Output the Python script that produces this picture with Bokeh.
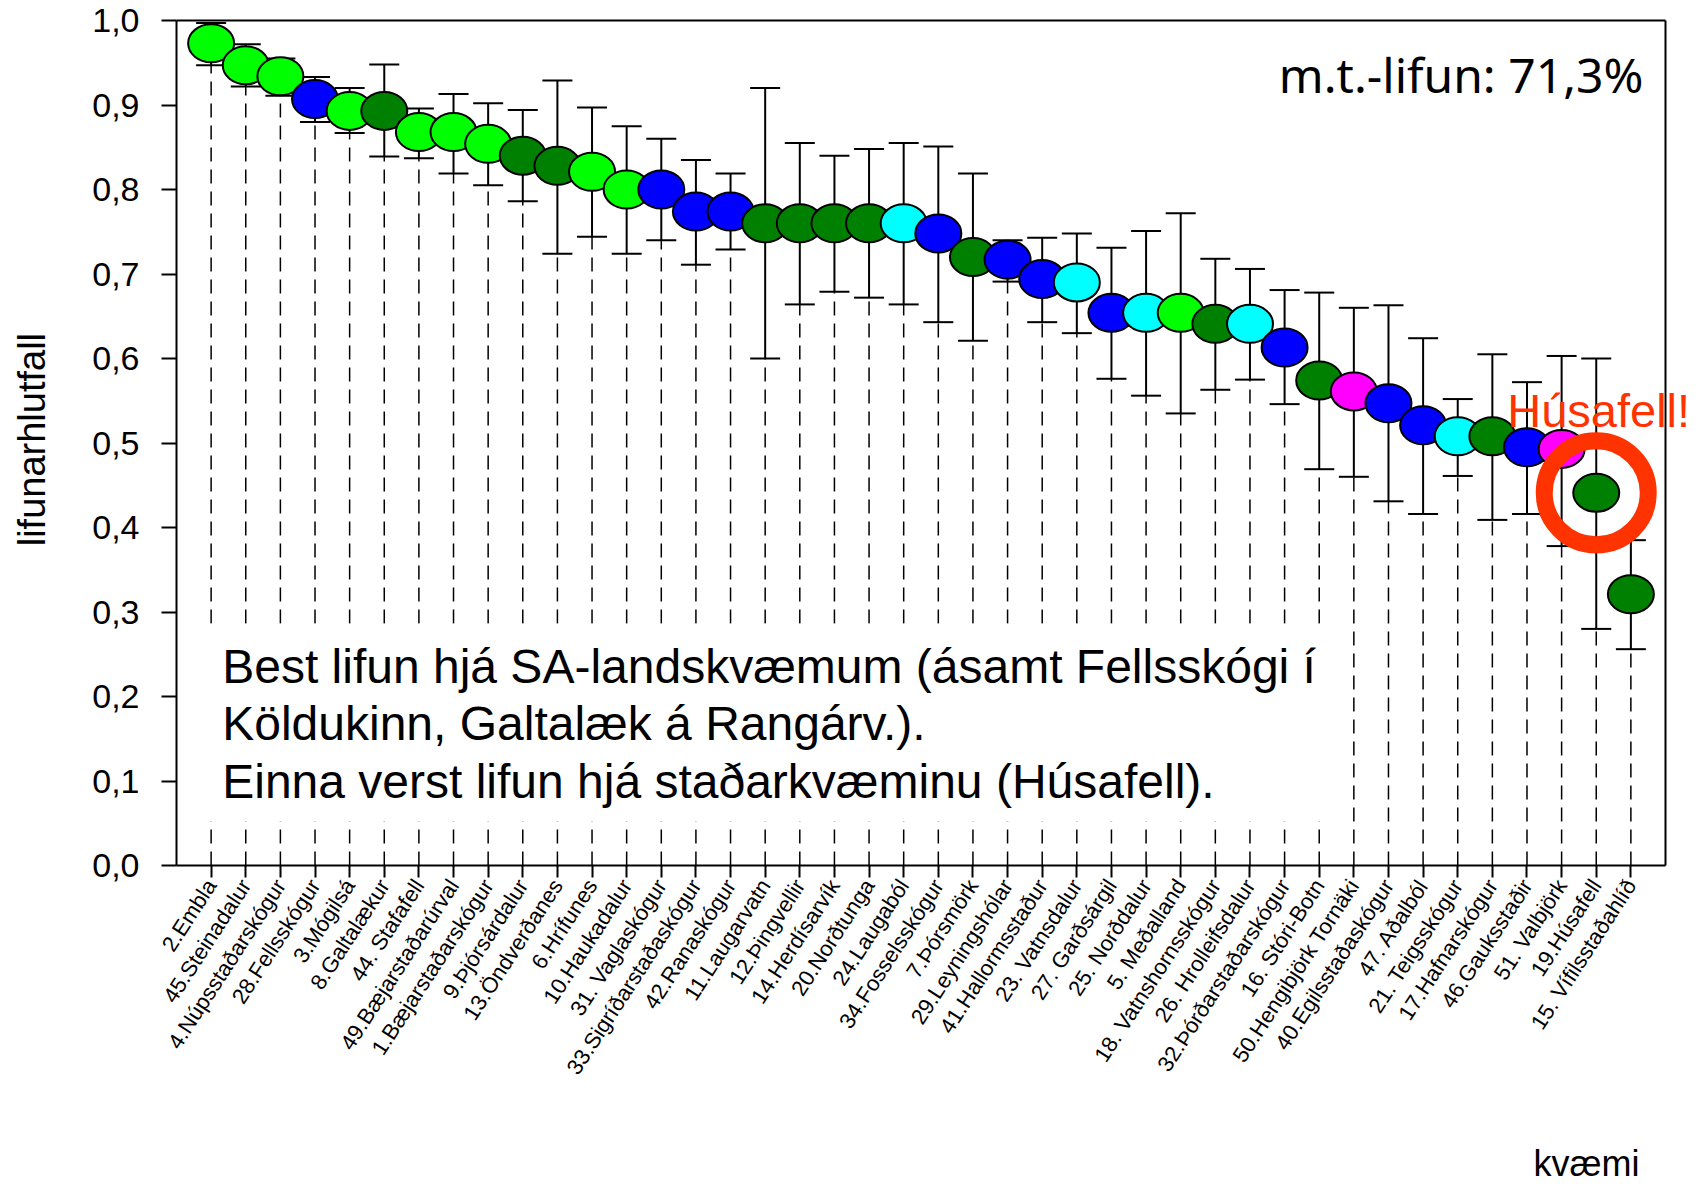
import math
from bokeh.plotting import figure
from bokeh.models import FixedTicker, Label, ColumnDataSource
from bokeh.embed import file_html
from bokeh.resources import INLINE

# ---------------- data ----------------
names = ["2.Embla", "45.Steinadalur", "4.Núpsstaðarskógur", "28.Fellsskógur", "3.Mógilsá",
         "8.Galtalækur", "44. Stafafell", "49.Bæjarstaðarúrval", "1.Bæjarstaðarskógur", "9.Þjórsárdalur",
         "13.Öndverðanes", "6.Hrífunes", "10.Haukadalur", "31. Vaglaskógur", "33.Sigríðarstaðaskógur",
         "42.Ranaskógur", "11.Laugarvatn", "12.Þingvellir", "14.Herdísarvík", "20.Norðtunga",
         "24.Laugaból", "34.Fosselsskógur", "7.Þórsmörk", "29.Leyningshólar", "41.Hallormsstaður",
         "23. Vatnsdalur", "27. Garðsárgil", "25. Norðdalur", "5. Meðalland", "18. Vatnshornsskógur",
         "26. Hrolleifsdalur", "32.Þórðarstaðarskógur", "16. Stóri-Botn", "50.Hengibjörk Tornäki",
         "40.Egilsstaðaskógur", "47. Aðalból", "21. Teigsskógur", "17.Hafnarskógur", "46.Gauksstaðir",
         "51. Valbjörk", "19.Húsafell", "15. Vífilsstaðahlíð"]

survival = [0.973, 0.947, 0.934, 0.907, 0.893, 0.893, 0.868, 0.868, 0.854, 0.840,
            0.828, 0.821, 0.800, 0.800, 0.774, 0.774, 0.760, 0.760, 0.760, 0.760,
            0.760, 0.748, 0.720, 0.717, 0.694, 0.690, 0.654, 0.654, 0.654, 0.641,
            0.641, 0.613, 0.574, 0.561, 0.547, 0.521, 0.508, 0.508, 0.495, 0.493,
            0.441, 0.321]

upper = [0.997, 0.972, 0.955, 0.933, 0.920, 0.948, 0.896, 0.913, 0.902, 0.894,
         0.929, 0.897, 0.875, 0.860, 0.835, 0.819, 0.920, 0.855, 0.840, 0.848,
         0.855, 0.851, 0.819, 0.740, 0.743, 0.748, 0.731, 0.751, 0.772, 0.718,
         0.706, 0.681, 0.678, 0.660, 0.663, 0.624, 0.552, 0.605, 0.572, 0.603,
         0.600, 0.385]

lower = [0.947, 0.922, 0.911, 0.880, 0.867, 0.839, 0.837, 0.819, 0.805, 0.786,
         0.724, 0.744, 0.724, 0.740, 0.711, 0.729, 0.600, 0.664, 0.679, 0.672,
         0.664, 0.643, 0.621, 0.691, 0.643, 0.630, 0.576, 0.556, 0.535, 0.563,
         0.575, 0.546, 0.469, 0.460, 0.431, 0.416, 0.461, 0.409, 0.416, 0.378,
         0.280, 0.256]

groups = ["lime", "lime", "lime", "blue", "lime", "dkgreen", "lime", "lime", "lime", "dkgreen",
          "dkgreen", "lime", "lime", "blue", "blue", "blue", "dkgreen", "dkgreen", "dkgreen", "dkgreen",
          "cyan", "blue", "dkgreen", "blue", "blue", "cyan", "blue", "cyan", "lime", "dkgreen",
          "cyan", "blue", "dkgreen", "magenta", "blue", "blue", "cyan", "dkgreen", "blue", "magenta",
          "dkgreen", "dkgreen"]

palette = {"lime": "#00FF00", "dkgreen": "#008000", "blue": "#0000FF",
           "cyan": "#00FFFF", "magenta": "#FF00FF"}

y_ticks = [0.0, 0.1, 0.2, 0.3, 0.4, 0.5, 0.6, 0.7, 0.8, 0.9, 1.0]
y_tick_labels = ["0,0", "0,1", "0,2", "0,3", "0,4", "0,5", "0,6", "0,7", "0,8", "0,9", "1,0"]

mean_text = "m.t.-lifun: 71,3%"
note_lines = ["Best lifun hjá SA-landskvæmum (ásamt Fellsskógi í",
              "Köldukinn, Galtalæk á Rangárv.).",
              "Einna verst lifun hjá staðarkvæminu (Húsafell)."]
highlight = "19.Húsafell"
highlight_text = "Húsafell!"
x_label = "kvæmi"
y_label = "lifunarhlutfall"

# ---------------- layout geometry (pixels) ----------------
W, H = 1706, 1191
box_left, box_right, box_top, box_bottom = 176, 1665, 20, 865

n = len(names)
xs = list(range(n))
ux = (box_right - box_left) / (n + 1)       # px per category
uy = (box_bottom - box_top) / 1.0           # px per unit survival
x_lo = -1 - box_left / ux
x_hi = n + (W - box_right) / ux
y_hi = 1 + box_top / uy
y_lo = -(H - box_bottom) / uy

colors = [palette[g] for g in groups]
cap = 15 / ux

src = ColumnDataSource(dict(x=xs, y=survival, up=upper, lo=lower, color=colors,
                            zero=[0.0] * n,
                            xl=[v - cap for v in xs], xr=[v + cap for v in xs]))

p = figure(width=W, height=H, x_range=(x_lo, x_hi), y_range=(y_lo, y_hi),
           output_backend="svg", toolbar_location=None, min_border=0)
p.title.visible = False
p.background_fill_color = "white"
p.border_fill_color = "white"
p.outline_line_color = None
p.xgrid.visible = False
p.ygrid.visible = False

# dashed drop lines
p.segment(x0="x", y0="zero", x1="x", y1="lo", source=src, line_color="black",
          line_width=1.5, line_dash="14 8")

# white box behind the note text
p.quad(left=-0.6, right=32.5, bottom=0.052, top=0.286, fill_color="white", line_color=None)

# plot box top and right edges
p.segment(x0=[-1, n], y0=[1, 0], x1=[n, n], y1=[1, 1], line_color="black", line_width=2)

# error bars
p.segment(x0="x", y0="lo", x1="x", y1="up", source=src, line_color="black", line_width=2)
p.segment(x0="xl", y0="up", x1="xr", y1="up", source=src, line_color="black", line_width=2)
p.segment(x0="xl", y0="lo", x1="xr", y1="lo", source=src, line_color="black", line_width=2)

# markers
p.ellipse(x="x", y="y", width=46, height=38, width_units="screen", height_units="screen",
          source=src, fill_color="color", line_color="black", line_width=2)

# highlight ring
hi = names.index(highlight)
p.scatter([hi], [survival[hi]], marker="circle", size=104, fill_color=None,
          line_color="#FF3300", line_width=17)

# axes (drawn at fixed positions inside the full-canvas frame)
p.yaxis.fixed_location = -1
p.xaxis.fixed_location = 0
p.yaxis.bounds = (0, 1)
p.xaxis.bounds = (-1, n)
p.yaxis.ticker = FixedTicker(ticks=y_ticks)
p.yaxis.major_label_overrides = dict(zip(y_ticks, y_tick_labels))
p.xaxis.ticker = FixedTicker(ticks=xs)
p.xaxis.major_label_overrides = dict(zip(xs, names))
p.xaxis.major_label_orientation = math.radians(57)

for ax in (p.xaxis[0], p.yaxis[0]):
    ax.axis_line_color = "black"
    ax.axis_line_width = 2
    ax.major_tick_line_color = "black"
    ax.major_tick_line_width = 2
    ax.major_tick_in = 0
    ax.minor_tick_line_color = None
    ax.major_label_text_font = "Liberation Sans"
    ax.major_label_text_color = "black"

p.yaxis.major_tick_out = 15
p.yaxis.major_label_text_font_size = "34px"
p.yaxis.major_label_standoff = 22

p.xaxis.major_tick_out = 12
p.xaxis.major_label_text_font_size = "22px"
p.xaxis.major_label_standoff = 4

# texts
p.add_layout(Label(x=-1 - (box_left - 31) / ux, y=0.504, text=y_label, angle=math.pi / 2,
                   text_align="center", text_baseline="middle", text_font="Liberation Sans",
                   text_font_size="38px", text_color="black"))

p.add_layout(Label(x=n - 0.64, y=0.936, text=mean_text, text_align="right",
                   text_baseline="alphabetic", text_font="Noto Sans",
                   text_font_size="48px", text_color="black"))

for i, line in enumerate(note_lines):
    p.add_layout(Label(x=0.32, y=0.236 - i * 0.068, text=line, text_align="left",
                       text_baseline="alphabetic", text_font="Liberation Sans",
                       text_font_size="48px", text_color="black"))

p.add_layout(Label(x=hi - 2.57, y=0.539, text=highlight_text, text_align="left",
                   text_baseline="alphabetic", text_font="Liberation Sans",
                   text_font_size="47px", text_color="#FF3300"))

p.add_layout(Label(x=-1 + (1586 - box_left) / ux, y=-(1163 - box_bottom) / uy, text=x_label,
                   text_align="center", text_baseline="alphabetic", text_font="Liberation Sans",
                   text_font_size="36px", text_color="black"))

open("out.html", "w").write(file_html(p, INLINE))
